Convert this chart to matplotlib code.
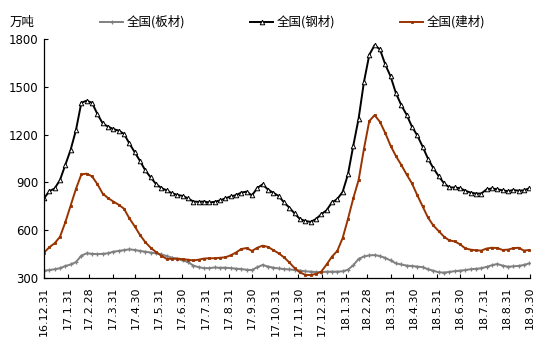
import matplotlib
matplotlib.use("Agg")
import matplotlib.pyplot as plt
from matplotlib.lines import Line2D
import numpy as np
import pandas as pd

plt.rcParams['font.family'] = ['Noto Sans CJK SC', 'DejaVu Sans']

dates = pd.date_range("2016-12-31", periods=92, freq="7D")

plate = [346, 350, 355, 362, 375, 385, 400, 440, 455, 452, 450, 452, 455, 465, 470, 475,
         480, 476, 470, 465, 460, 455, 448, 438, 428, 420, 410, 400, 378, 368, 362, 362,
         366, 364, 365, 362, 359, 356, 352, 350, 368, 382, 372, 365, 360, 356, 354, 350,
         347, 342, 340, 338, 336, 340, 340, 340, 342, 352, 380, 420, 435, 442, 444, 438,
         426, 410, 392, 385, 378, 375, 372, 368, 355, 346, 336, 334, 338, 343, 346, 350,
         355, 358, 361, 370, 380, 388, 378, 371, 373, 376, 382, 392]

steel = [800, 845, 862, 915, 1010, 1105, 1229, 1400, 1413, 1400, 1330, 1271, 1250, 1235, 1225, 1205,
         1145, 1090, 1035, 975, 932, 890, 865, 850, 832, 822, 815, 800, 780, 778, 780, 774,
         778, 787, 800, 812, 820, 836, 842, 818, 865, 888, 855, 835, 815, 775, 742, 705,
         670, 658, 652, 670, 700, 725, 775, 795, 840, 950, 1130, 1300, 1530, 1700, 1762, 1735,
         1640, 1565, 1460, 1385, 1325, 1250, 1195, 1125, 1050, 990, 940, 895, 869, 868, 864, 848,
         836, 830, 830, 856, 862, 857, 850, 845, 852, 848, 850, 863]

build = [459, 493, 518, 559, 650, 755, 860, 950, 955, 938, 890, 830, 802, 780, 760, 735,
         675, 625, 570, 525, 490, 463, 440, 420, 420, 422, 418, 415, 410, 415, 422, 424,
         424, 427, 430, 442, 460, 482, 488, 470, 490, 503, 495, 475, 455, 430, 398, 362,
         335, 320, 318, 326, 340, 385, 434, 470, 550, 670, 800, 915, 1110, 1285, 1322, 1280,
         1210, 1130, 1065, 1010, 950, 894, 820, 750, 680, 630, 595, 560, 536, 530, 512, 486,
         478, 474, 472, 485, 490, 488, 476, 478, 487, 490, 472, 476]

tick_dates = pd.to_datetime([
    "2016-12-31", "2017-01-31", "2017-02-28", "2017-03-31", "2017-04-30", "2017-05-31",
    "2017-06-30", "2017-07-31", "2017-08-31", "2017-09-30", "2017-10-31", "2017-11-30",
    "2017-12-31", "2018-01-31", "2018-02-28", "2018-03-31", "2018-04-30", "2018-05-31",
    "2018-06-30", "2018-07-31", "2018-08-31", "2018-09-30"])
tick_labels = ["16.12.31", "17.1.31", "17.2.28", "17.3.31", "17.4.30", "17.5.31", "17.6.30",
               "17.7.31", "17.8.31", "17.9.30", "17.10.31", "17.11.30", "17.12.31", "18.1.31",
               "18.2.28", "18.3.31", "18.4.30", "18.5.31", "18.6.30", "18.7.31", "18.8.31",
               "18.9.30"]
yticks = [300, 600, 900, 1200, 1500, 1800]
names = ["全国(板材)", "全国(钢材)", "全国(建材)"]
colors = ["#808080", "black", "#993300"]

fig = plt.figure(figsize=(5.5, 3.52), dpi=100)
ax = fig.add_axes([44/550, 74/352, 486/550, 239/352])

ax.plot(dates, plate, color=colors[0], lw=1.4, marker="+", ms=3.2, mew=0.9)
ax.plot(dates, steel, color=colors[1], lw=1.4, marker="^", ms=3.3, mfc="white", mec="black", mew=0.7)
ax.plot(dates, build, color=colors[2], lw=1.4, marker="s", ms=1.8, mew=0.6)

ax.set_xlim(pd.Timestamp("2016-12-31"), pd.Timestamp("2018-09-30"))
ax.set_ylim(300, 1800)
ax.set_yticks(yticks)
ax.set_yticklabels([str(v) for v in yticks], fontsize=8.5, family=['DejaVu Sans'])
ax.set_xticks(tick_dates)
ax.set_xticklabels(tick_labels, rotation=90, fontsize=8, family=['DejaVu Sans'])
ax.tick_params(axis='both', direction='in', length=3, width=0.8)
ax.tick_params(axis='x', pad=6)
ax.tick_params(axis='y', pad=4)
for s in ['top', 'right']:
    ax.spines[s].set_visible(False)
for s in ['left', 'bottom']:
    ax.spines[s].set_linewidth(0.9)

ly = 1 - 22/352
fig.text(10/550, ly, "万吨", fontsize=9, va='center', ha='left')
markers = [dict(marker="+", ms=3.2, mew=0.9, mfc=colors[0]),
           dict(marker="^", ms=3.3, mfc="white", mec="black", mew=0.7),
           dict(marker="s", ms=1.8, mew=0.6, mfc=colors[2])]
starts = [100, 250, 400]
for x0, name, c, mk in zip(starts, names, colors, markers):
    fig.add_artist(Line2D([x0/550, (x0 + 23)/550], [ly, ly], color=c, lw=1.4,
                          transform=fig.transFigure))
    fig.add_artist(Line2D([(x0 + 11.5)/550], [ly], color=c, transform=fig.transFigure, **mk))
    fig.text((x0 + 27)/550, ly, name, fontsize=9, va='center', ha='left')

fig.savefig("out.png", dpi=100)
